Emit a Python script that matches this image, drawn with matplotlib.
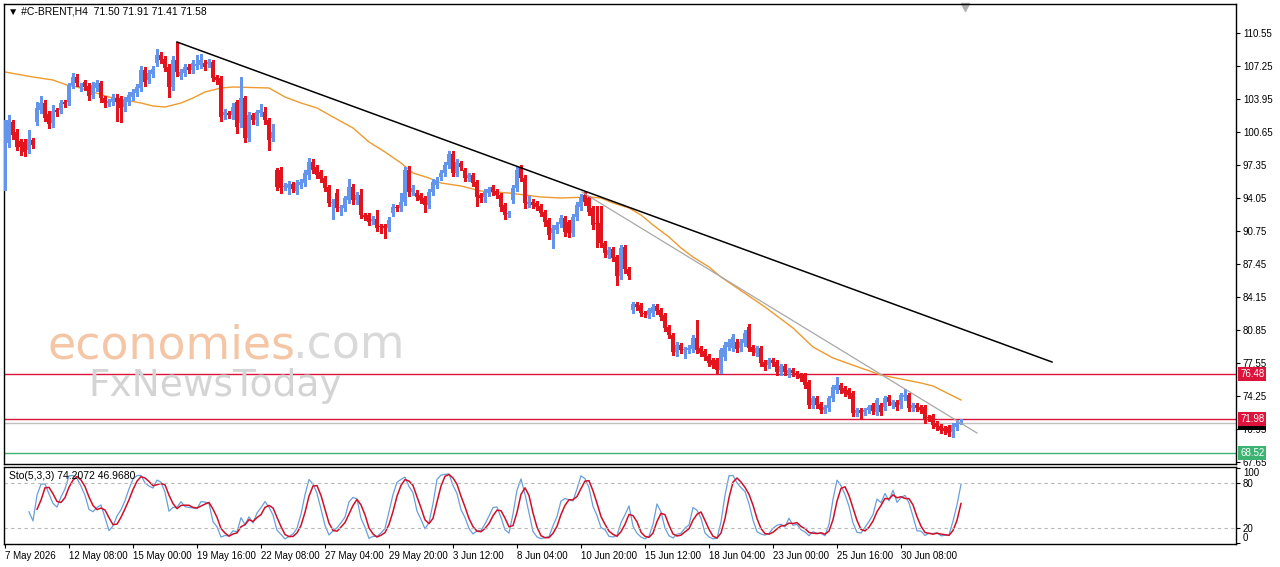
import numpy as np
import matplotlib.pyplot as plt

plt.rcParams['font.family'] = ['Liberation Sans', 'DejaVu Sans']

# H4 candles (oldest first)
opens = [
    95.35, 99.55, 101.65, 100.65, 99.75, 99.65, 98.85, 99.85, 101.65, 102.85,
    103.55, 102.45, 101.55, 102.85, 102.85, 103.65, 103.65, 105.35, 106.15, 105.05,
    105.65, 105.25, 104.35, 105.05, 105.55, 104.05, 103.55, 103.65, 104.05, 104.05,
    103.15, 103.65, 104.15, 104.55, 105.05, 106.85, 105.85, 106.45, 107.55, 108.35,
    107.95, 107.15, 105.15, 107.85, 106.25, 106.55, 107.15, 106.85, 107.25, 107.35,
    107.55, 107.45, 107.65, 106.15, 106.05, 102.35, 102.55, 102.35, 103.65, 101.55,
    104.05, 100.05, 102.35, 101.85, 102.55, 102.65, 101.85, 100.05, 96.85, 96.85,
    95.15, 95.05, 95.45, 94.75, 95.35, 95.55, 96.35, 97.65, 97.15, 96.65,
    96.05, 95.15, 93.55, 94.55, 93.05, 93.05, 93.85, 95.15, 93.85, 94.35,
    92.35, 92.35, 91.75, 91.95, 91.25, 91.25, 91.05, 92.55, 93.15, 93.05,
    93.65, 96.85, 94.65, 94.55, 94.35, 94.05, 93.35, 94.65, 95.35, 96.15,
    96.55, 97.35, 98.45, 96.55, 97.55, 96.85, 96.05, 96.35, 95.65, 94.35,
    94.15, 94.55, 95.15, 94.75, 94.35, 93.35, 92.45, 93.85, 95.05, 97.05,
    96.05, 93.45, 93.65, 93.55, 93.25, 92.65, 91.85, 90.55, 90.85, 91.45,
    92.05, 91.65, 90.55, 92.15, 93.15, 94.35, 94.05, 93.05, 91.55, 91.55,
    89.55, 88.35, 88.95, 88.15, 86.25, 89.15, 86.95, 82.85, 83.45, 83.35,
    82.55, 82.35, 82.55, 83.25, 82.85, 82.35, 81.15, 80.35, 78.65, 79.35,
    78.85, 78.85, 78.95, 80.05, 79.05, 78.75, 78.25, 77.85, 77.85, 76.85,
    78.15, 79.15, 79.05, 79.65, 79.05, 79.55, 81.15, 79.15, 78.55, 79.05,
    77.65, 77.35, 77.85, 77.65, 76.65, 77.25, 76.55, 76.85, 76.55, 76.35,
    76.35, 75.65, 73.35, 74.05, 73.45, 72.85, 73.05, 74.05, 74.85, 75.35,
    75.05, 74.85, 74.55, 72.55, 72.85, 72.65, 72.85, 73.35, 72.65, 73.35,
    73.15, 74.15, 73.35, 73.65, 73.35, 74.15, 74.35, 73.05, 73.35, 73.15,
    73.15, 72.15, 72.25, 71.55, 71.25, 71.05, 71.15, 70.65, 71.15, 71.50,
]
highs = [
    101.85, 102.35, 101.9, 101.0, 100.0, 100.0, 100.85, 100.1, 103.7, 104.3,
    103.9, 102.8, 103.4, 103.1, 103.9, 103.9, 105.6, 106.6, 106.5, 105.6,
    105.9, 105.6, 105.7, 105.9, 105.8, 104.3, 104.0, 104.5, 104.5, 104.3,
    104.2, 104.7, 105.0, 105.5, 107.3, 107.2, 106.9, 107.3, 108.95, 108.7,
    108.3, 107.5, 108.3, 109.65, 107.0, 107.5, 107.5, 107.9, 108.4, 108.5,
    107.9, 108.0, 107.9, 106.4, 106.3, 103.0, 102.8, 103.6, 103.9, 106.15,
    104.3, 102.7, 102.6, 102.9, 103.5, 103.2, 102.1, 101.5, 97.1, 97.2,
    95.6, 95.8, 95.7, 95.9, 96.0, 96.9, 98.1, 98.0, 97.4, 96.9,
    96.3, 95.4, 94.0, 95.0, 93.4, 94.3, 96.0, 95.5, 94.7, 95.0,
    92.6, 92.6, 92.3, 92.9, 91.5, 91.5, 92.2, 93.5, 93.4, 94.6,
    97.2, 97.3, 95.4, 94.9, 94.6, 94.3, 95.0, 96.0, 96.2, 96.9,
    97.7, 98.8, 98.8, 98.0, 97.8, 97.1, 96.6, 96.6, 95.9, 94.6,
    95.0, 95.2, 95.4, 95.0, 94.6, 93.6, 92.8, 95.4, 97.2, 97.4,
    96.4, 94.3, 94.0, 93.8, 93.5, 92.9, 92.1, 91.4, 91.7, 92.4,
    92.3, 91.9, 92.5, 93.7, 94.5, 94.7, 94.3, 93.3, 93.25, 93.3,
    89.8, 89.2, 89.2, 88.4, 89.4, 89.4, 87.2, 83.7, 83.7, 83.6,
    82.8, 83.1, 83.5, 83.5, 83.1, 82.6, 81.4, 80.6, 79.7, 79.6,
    79.2, 79.4, 80.4, 81.85, 79.3, 79.0, 78.5, 78.1, 78.1, 79.1,
    79.7, 80.0, 80.5, 80.0, 80.0, 80.9, 81.45, 79.4, 79.3, 79.3,
    77.9, 78.1, 78.1, 77.9, 77.5, 77.5, 77.1, 77.1, 76.8, 76.6,
    76.6, 75.9, 74.3, 74.3, 73.7, 73.4, 74.3, 75.4, 76.15, 75.6,
    75.3, 75.1, 74.8, 73.1, 73.1, 73.1, 73.4, 73.6, 74.1, 73.6,
    74.3, 74.4, 73.9, 73.9, 74.6, 74.95, 74.6, 73.6, 73.6, 73.4,
    73.4, 72.4, 72.5, 71.8, 71.5, 71.3, 71.4, 71.6, 71.9, 71.91,
]
lows = [
    94.85, 99.2, 100.0, 98.9, 98.35, 98.3, 98.6, 99.1, 101.4, 102.6,
    101.8, 101.1, 101.2, 102.3, 102.6, 103.2, 103.4, 105.1, 105.3, 104.8,
    104.9, 103.9, 104.1, 104.8, 103.7, 103.2, 103.3, 103.4, 101.75, 101.65,
    102.8, 103.4, 103.9, 104.3, 104.8, 105.3, 105.6, 106.2, 107.3, 107.6,
    106.8, 104.15, 104.9, 106.3, 106.0, 106.3, 106.6, 106.6, 107.0, 107.1,
    106.9, 107.2, 105.8, 105.5, 101.8, 102.0, 102.1, 102.0, 100.6, 101.2,
    99.7, 99.8, 101.5, 101.4, 102.3, 101.5, 98.85, 99.8, 94.9, 94.6,
    94.9, 94.5, 94.7, 94.5, 95.1, 95.3, 96.0, 96.6, 96.1, 95.7,
    94.8, 93.3, 91.95, 92.8, 92.4, 92.8, 93.6, 93.5, 93.5, 92.1,
    91.9, 91.4, 91.5, 90.8, 90.6, 90.05, 90.8, 92.3, 92.8, 92.8,
    93.4, 94.3, 94.4, 93.9, 93.6, 92.7, 93.1, 94.4, 95.1, 95.9,
    96.3, 97.1, 96.3, 96.3, 96.9, 95.8, 95.8, 95.3, 93.3, 93.7,
    93.7, 94.3, 94.4, 94.1, 92.8, 92.0, 92.2, 93.6, 94.8, 95.8,
    93.1, 93.2, 93.1, 92.9, 92.3, 91.3, 90.0, 89.05, 90.6, 91.2,
    90.3, 90.2, 90.3, 91.9, 92.9, 93.4, 92.4, 91.0, 89.15, 89.2,
    88.2, 88.1, 87.8, 85.35, 86.0, 86.6, 86.0, 82.6, 82.9, 82.3,
    82.2, 82.1, 82.3, 82.5, 81.9, 80.8, 80.1, 78.4, 78.3, 78.6,
    78.05, 78.6, 78.7, 78.6, 78.3, 77.9, 77.3, 77.1, 76.6, 76.55,
    77.9, 78.9, 78.8, 78.7, 78.8, 79.3, 78.8, 78.4, 78.3, 77.3,
    76.9, 77.1, 77.3, 76.4, 76.4, 76.4, 76.2, 76.3, 76.1, 75.8,
    75.1, 73.1, 73.1, 73.1, 72.6, 72.6, 72.8, 73.8, 74.6, 74.6,
    74.3, 74.1, 72.3, 72.3, 71.95, 72.4, 72.6, 72.5, 72.4, 72.4,
    72.9, 73.4, 73.1, 72.9, 73.1, 73.9, 72.8, 72.8, 72.8, 72.6,
    71.6, 71.8, 71.1, 70.9, 70.6, 70.5, 70.3, 70.15, 70.9, 71.41,
]
closes = [
    101.35, 101.85, 100.35, 99.15, 99.15, 98.65, 99.95, 99.35, 103.05, 103.55,
    102.05, 101.45, 102.75, 102.65, 103.55, 103.45, 105.35, 106.15, 105.55, 105.25,
    105.15, 104.25, 105.35, 105.55, 104.05, 103.55, 103.75, 104.15, 103.65, 103.05,
    103.85, 104.35, 104.65, 105.15, 106.85, 105.65, 106.55, 106.95, 108.35, 107.85,
    107.05, 105.15, 107.85, 106.65, 106.65, 107.15, 106.85, 107.55, 107.45, 107.85,
    107.15, 107.65, 106.05, 105.85, 102.15, 102.65, 102.35, 103.15, 101.15, 104.05,
    100.05, 102.35, 101.85, 102.65, 102.85, 101.85, 99.85, 100.65, 95.15, 95.05,
    95.25, 95.45, 94.95, 95.55, 95.65, 96.55, 97.65, 96.85, 96.35, 95.95,
    95.05, 93.55, 93.65, 93.05, 93.15, 94.05, 95.15, 93.85, 94.35, 92.35,
    92.15, 91.65, 91.95, 91.05, 91.15, 91.05, 91.85, 93.15, 93.05, 93.65,
    96.85, 94.65, 95.05, 94.15, 93.85, 93.35, 94.65, 95.65, 95.85, 96.55,
    97.35, 98.45, 96.55, 97.65, 97.15, 96.05, 96.35, 95.55, 94.15, 94.05,
    94.65, 94.95, 94.65, 94.35, 93.15, 92.35, 92.55, 95.05, 96.85, 96.05,
    93.55, 93.65, 93.35, 93.15, 92.55, 91.65, 90.35, 91.05, 91.35, 92.05,
    90.65, 90.55, 92.15, 93.35, 94.15, 93.65, 92.65, 91.35, 91.45, 89.55,
    88.55, 88.85, 88.05, 86.25, 89.05, 86.95, 86.25, 83.45, 83.15, 82.55,
    82.45, 82.85, 83.15, 82.75, 82.15, 81.05, 80.35, 78.65, 79.35, 78.85,
    78.95, 79.05, 80.05, 78.85, 78.55, 78.15, 77.55, 77.35, 76.85, 78.85,
    79.35, 79.65, 80.15, 78.95, 79.65, 80.55, 79.05, 78.65, 79.05, 77.55,
    77.15, 77.85, 77.55, 76.65, 77.25, 76.65, 76.85, 76.55, 76.35, 76.05,
    75.35, 73.35, 74.05, 73.35, 72.85, 73.15, 74.05, 75.15, 75.35, 74.85,
    74.55, 74.35, 72.55, 72.85, 72.55, 72.85, 73.15, 72.75, 73.85, 72.65,
    74.05, 73.65, 73.65, 73.15, 74.35, 74.35, 73.05, 73.35, 73.05, 72.85,
    71.85, 72.05, 71.35, 71.15, 70.85, 70.75, 70.55, 71.35, 71.55, 71.58,
]

# moving average (orange), read at these bar numbers
ma_bars = [0, 7, 12, 15.5, 18, 22, 26, 30, 34, 37, 40, 44, 47, 50, 54, 57, 66, 70,
           74, 78, 82, 87, 91, 95, 99, 102, 106, 109, 114, 119, 126, 134, 139, 146,
           149, 152, 156, 159, 162, 166, 169, 172, 176, 179, 190, 197, 202, 207, 214,
           219, 224, 229, 232, 235, 239]
ma_values = [106.65, 106.15, 105.85, 105.35, 105.15, 104.65, 104.15, 103.85, 103.55,
             103.25, 103.15, 103.55, 104.05, 104.65, 105.05, 105.15, 105.05, 104.15,
             103.55, 103.05, 102.15, 101.05, 99.65, 98.65, 97.55, 96.55, 96.05, 95.55,
             95.25, 94.75, 94.55, 94.15, 94.05, 94.15, 94.05, 93.55, 93.05, 92.35,
             91.35, 90.15, 89.05, 88.15, 87.15, 86.15, 83.15, 81.05, 79.15, 78.05,
             77.05, 76.35, 75.95, 75.55, 75.25, 74.65, 73.85]

# trend lines (bar, price) end points
trend_black = ([43, 261.75], [109.65, 77.65])
trend_grey = ([144.25, 243], [94.65, 70.55])

# horizontal levels
levels = [76.48, 71.98]
support = 68.52
bid = 71.58

price_ticks = [110.55, 107.25, 103.95, 100.65, 97.35, 94.05, 90.75, 87.45,
               84.15, 80.85, 77.55, 74.25, 70.95, 67.65]
sto_ticks = [0, 20, 80, 100]
time_labels = ["7 May 2026", "12 May 08:00", "15 May 00:00", "19 May 16:00",
               "22 May 08:00", "27 May 04:00", "29 May 20:00", "3 Jun 12:00",
               "8 Jun 04:00", "10 Jun 20:00", "15 Jun 12:00", "18 Jun 04:00",
               "23 Jun 00:00", "25 Jun 16:00", "30 Jun 08:00"]
label_step = 16

BULL = '#6495ED'
BEAR = '#E3141E'
CRIMSON = '#DC143C'


def stochastic(high, low, close, k_period=5, slowing=3, d_period=3):
    """Stochastic oscillator as in MetaTrader: %K with slowing, %D = SMA of %K"""
    high, low, close = map(np.asarray, (high, low, close))
    n = len(close)
    num = np.full(n, np.nan)
    den = np.full(n, np.nan)
    for i in range(k_period - 1, n):
        num[i] = close[i] - low[i - k_period + 1:i + 1].min()
        den[i] = high[i - k_period + 1:i + 1].max() - low[i - k_period + 1:i + 1].min()
    k = np.full(n, np.nan)
    for i in range(k_period + slowing - 2, n):
        k[i] = 100 * num[i - slowing + 1:i + 1].sum() / den[i - slowing + 1:i + 1].sum()
    d = np.full(n, np.nan)
    for i in range(k_period + slowing + d_period - 3, n):
        d[i] = k[i - d_period + 1:i + 1].mean()
    return k, d


o = np.array(opens)
h = np.array(highs)
l = np.array(lows)
c = np.array(closes)
bars = np.arange(len(c))
up = c >= o
colors = np.where(up, BULL, BEAR)

fig = plt.figure(figsize=(12.8, 5.67), dpi=100)
ax = fig.add_axes([4 / 1280, 103 / 567, 1232 / 1280, 460 / 567])
ax2 = fig.add_axes([4 / 1280, 23 / 567, 1232 / 1280, 77 / 567])

# candles
ax.vlines(bars, l, h, colors=colors, linewidth=1, zorder=3, antialiased=False)
ax.bar(bars, np.maximum(np.abs(c - o), 0.08), bottom=np.minimum(o, c), width=0.78,
       color=colors, linewidth=0, zorder=4, antialiased=False)

ax.plot(ma_bars, ma_values, color='#EE9A2E', linewidth=1, zorder=2)
ax.plot(*trend_black, color='black', linewidth=1.1, zorder=5)
ax.plot(*trend_grey, color='#A8A8A8', linewidth=0.9, zorder=5)

for lv in levels:
    ax.axhline(lv, color=CRIMSON, linewidth=1, zorder=1)
ax.axhline(support, color='#3CB371', linewidth=1, zorder=1)
ax.axhline(bid, color='#C0C0C0', linewidth=1, zorder=1)

ax.set_xlim(-0.25, 307.75)
ax.set_ylim(67.45, 113.45)
ax.set_xticks([])
ax.yaxis.tick_right()
ax.set_yticks(price_ticks)
ax.set_yticklabels([f'{p:.2f}' for p in price_ticks])
ax.tick_params(axis='y', labelsize=7, length=3, pad=2, width=0.8)


def price_box(value, color, z):
    ax.annotate(f'{value:.2f}', xy=(1, value), xycoords=('axes fraction', 'data'),
                xytext=(3, 0), textcoords='offset points', ha='left', va='center',
                fontsize=7, color='white', zorder=z, annotation_clip=False,
                bbox=dict(boxstyle='square,pad=0.2', fc=color, ec='none'))


price_box(bid, 'black', 10)
for lv in levels:
    price_box(lv, CRIMSON, 11)
price_box(support, '#3CB371', 11)

# chart shift marker
ax.plot([240], [113.2], marker='v', color='#B0B0B0', markersize=6, clip_on=False)

# stochastic
k_line, d_line = stochastic(h, l, c)
ax2.plot(bars, k_line, color='#6A9FDA', linewidth=0.9)
ax2.plot(bars, d_line, color='#D0102A', linewidth=1.1)
for lv in (20, 80):
    ax2.axhline(lv, color='#B8B8B8', linewidth=0.8, linestyle=(0, (3, 3)))
ax2.set_xlim(-0.25, 307.75)
ax2.set_ylim(-1.3, 101.3)
ax2.yaxis.tick_right()
ax2.set_yticks(sto_ticks)
ax2.tick_params(axis='y', labelsize=7, length=3, pad=2, width=0.8)
for lab, v in zip(ax2.get_yticklabels(), sto_ticks):
    if v == 100:
        lab.set_verticalalignment('top')
    elif v == 0:
        lab.set_verticalalignment('bottom')
tick_bars = np.arange(len(time_labels)) * label_step
ax2.set_xticks(tick_bars)
ax2.set_xticklabels(time_labels, ha='left')
ax2.tick_params(axis='x', labelsize=7, length=3, pad=2, width=0.8)

for a in (ax, ax2):
    for s in a.spines.values():
        s.set_color('black')
        s.set_linewidth(1)

fig.text(8 / 1280, 1 - 12 / 567, '\u25bc #C-BRENT,H4  71.50 71.91 71.41 71.58',
         fontsize=7.5, va='center', ha='left')
fig.text(9 / 1280, 1 - 476 / 567, 'Sto(5,3,3) 74.2072 46.9680',
         fontsize=7.5, va='center', ha='left')

# watermark
fig.text(48 / 1280, 1 - 346 / 567, 'economies', fontsize=33, color='#F5C6A5',
         va='center', ha='left', family='DejaVu Sans')
fig.text(292 / 1280, 1 - 346 / 567, '.com', fontsize=33, color='#D9D9D9',
         va='center', ha='left', family='DejaVu Sans')
fig.text(88 / 1280, 1 - 386 / 567, 'FxNewsToday', fontsize=27, color='#D4D4D4',
         va='center', ha='left', family='DejaVu Sans')

fig.savefig('out.png', dpi=100)
